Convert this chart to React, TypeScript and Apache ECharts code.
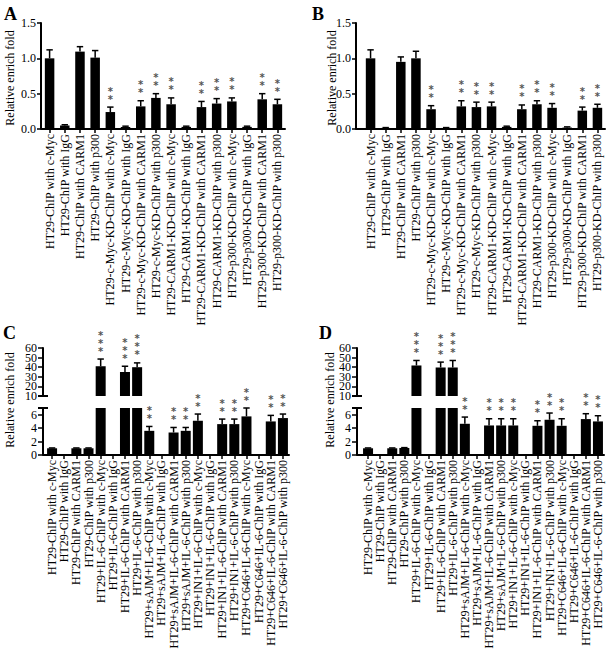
import React, { useEffect, useRef } from "react";
import * as echarts from "echarts";

const catsAB = [
  "HT29-ChIP with c-Myc",
  "HT29-ChIP with IgG",
  "HT29-ChIP with CARM1",
  "HT29-ChIP with p300",
  "HT29-c-Myc-KD-ChIP with c-Myc",
  "HT29-c-Myc-KD-ChIP with IgG",
  "HT29-c-Myc-KD-ChIP with CARM1",
  "HT29-c-Myc-KD-ChIP with p300",
  "HT29-CARM1-KD-ChIP with c-Myc",
  "HT29-CARM1-KD-ChIP with IgG",
  "HT29-CARM1-KD-ChIP with CARM1",
  "HT29-CARM1-KD-ChIP with p300",
  "HT29-p300-KD-ChIP with c-Myc",
  "HT29-p300-KD-ChIP with IgG",
  "HT29-p300-KD-ChIP with CARM1",
  "HT29-p300-KD-ChIP with p300",
];

const catsCD = [
  "HT29-ChIP with c-Myc",
  "HT29-ChIP with IgG",
  "HT29-ChIP with CARM1",
  "HT29-ChIP with p300",
  "HT29+IL-6-ChIP with c-Myc",
  "HT29+IL-6-ChIP with IgG",
  "HT29+IL-6-ChIP with CARM1",
  "HT29+IL-6-ChIP with p300",
  "HT29+sAJM+IL-6-ChIP with c-Myc",
  "HT29+sAJM+IL-6-ChIP with IgG",
  "HT29+sAJM+IL-6-ChIP with CARM1",
  "HT29+sAJM+IL-6-ChIP with p300",
  "HT29+IN1+IL-6-ChIP with c-Myc",
  "HT29+IN1+IL-6-ChIP with IgG",
  "HT29+IN1+IL-6-ChIP with CARM1",
  "HT29+IN1+IL-6-ChIP with p300",
  "HT29+C646+IL-6-ChIP with c-Myc",
  "HT29+C646+IL-6-ChIP with IgG",
  "HT29+C646+IL-6-ChIP with CARM1",
  "HT29+C646+IL-6-ChIP with p300",
];

const meanA = [1.0, 0.05, 1.095, 1.01, 0.24, 0.03, 0.32, 0.44, 0.35, 0.03, 0.31, 0.36, 0.39, 0.03, 0.42, 0.35];
const errA = [0.12, 0.01, 0.07, 0.1, 0.07, 0.01, 0.08, 0.06, 0.09, 0.01, 0.08, 0.07, 0.05, 0.01, 0.08, 0.07];
const starsA = [0, 0, 0, 0, 2, 0, 2, 2, 2, 0, 2, 2, 2, 0, 2, 2];

const meanB = [1.0, 0.015, 0.95, 1.0, 0.28, 0.015, 0.32, 0.31, 0.32, 0.03, 0.28, 0.35, 0.3, 0.02, 0.26, 0.3];
const errB = [0.12, 0.005, 0.07, 0.1, 0.05, 0.005, 0.08, 0.07, 0.06, 0.01, 0.06, 0.05, 0.06, 0.01, 0.05, 0.05];
const starsB = [0, 0, 0, 0, 2, 0, 2, 2, 2, 0, 2, 2, 2, 0, 2, 2];

const meanC = [1.0, 0, 1.0, 1.0, 41, 0, 35, 40, 3.6, 0, 3.35, 3.6, 5.1, 0, 4.6, 4.6, 5.75, 0, 5.0, 5.5];
const errC = [0.05, 0, 0.05, 0.05, 7.5, 0, 6, 4.5, 0.65, 0, 0.75, 0.5, 1.0, 0, 0.75, 0.75, 1.25, 0, 0.9, 0.6];
const starsC = [0, 0, 0, 0, 3, 0, 3, 3, 2, 0, 2, 2, 2, 0, 2, 2, 2, 0, 2, 2];

const meanD = [1.0, 0, 1.0, 1.05, 41.8, 0, 39.7, 39.7, 4.65, 0, 4.4, 4.4, 4.4, 0, 4.35, 5.25, 4.35, 0, 5.35, 5.0];
const errD = [0.05, 0, 0.05, 0.05, 5.2, 0, 5.6, 7.3, 1.0, 0, 1.0, 1.0, 1.0, 0, 0.75, 1.0, 1.05, 0, 0.8, 0.85];
const starsD = [0, 0, 0, 0, 3, 0, 3, 3, 2, 0, 2, 2, 2, 0, 2, 2, 2, 0, 2, 2];

// y-axis ranges / tick steps
const rangeAB = { min: 0, max: 1.5, interval: 0.5 };
const rangeUpper = { min: 10, max: 60, interval: 10 };
const rangeLower = { min: 0, max: 7, interval: 2 };

const yTitle = "Relative enrich fold";
const FONT = "'Liberation Serif', 'Times New Roman', serif";

type Seg = { top: number; height: number; min: number; max: number; interval: number; showX: boolean; split: boolean };
type Panel = {
  letter: string;
  cats: string[];
  mean: number[];
  err: number[];
  stars: number[];
  left: number;
  width: number;
  offset: number;
  barWidth: number;
  segs: Seg[];
  fmt: (v: number) => string;
  letterPos: [number, number];
  titlePos: [number, number];
};

const segAB: Seg[] = [{ top: 23, height: 106, ...rangeAB, showX: true, split: false }];
const segCD: Seg[] = [
  { top: 348, height: 48, ...rangeUpper, showX: false, split: true },
  { top: 408, height: 47, ...rangeLower, showX: true, split: false },
];

const panels: Panel[] = [
  { letter: "A", cats: catsAB, mean: meanA, err: errA, stars: starsA, left: 42, width: 243, offset: 1, barWidth: 9.5, segs: segAB, fmt: (v) => v.toFixed(1), letterPos: [4, 14], titlePos: [10, 78] },
  { letter: "B", cats: catsAB, mean: meanB, err: errB, stars: starsB, left: 363, width: 242, offset: 7, barWidth: 9.5, segs: segAB, fmt: (v) => v.toFixed(1), letterPos: [312, 14], titlePos: [332, 78] },
  { letter: "C", cats: catsCD, mean: meanC, err: errC, stars: starsC, left: 46, width: 243, offset: 3, barWidth: 10, segs: segCD, fmt: (v) => (v === rangeLower.max ? "" : String(v)), letterPos: [3, 333], titlePos: [10, 400] },
  { letter: "D", cats: catsCD, mean: meanD, err: errD, stars: starsD, left: 362, width: 242, offset: 5, barWidth: 10, segs: segCD, fmt: (v) => (v === rangeLower.max ? "" : String(v)), letterPos: [319, 333], titlePos: [330, 400] },
];

function buildOption() {
  const grid: any[] = [];
  const xAxis: any[] = [];
  const yAxis: any[] = [];
  const series: any[] = [];
  const graphic: any[] = [];
  let gi = 0;

  const labelBase = {
    show: true,
    showMinLabel: true,
    showMaxLabel: true,
    hideOverlap: false,
    fontSize: 12,
    fontFamily: FONT,
    color: "#000",
  };

  panels.forEach((p) => {
    const axisX = p.left - p.offset;
    const broken = p.segs.length > 1;
    p.segs.forEach((s, si) => {
      const lo = s.min;
      const hi = s.max;
      grid.push({ left: p.left, top: s.top, width: p.width, height: s.height, containLabel: false, outerBoundsMode: "none" });
      xAxis.push({
        type: "category",
        gridIndex: gi,
        data: p.cats,
        show: s.showX,
        axisLine: { show: s.showX, onZero: false, lineStyle: { color: "#000", width: 2 } },
        axisTick: { show: s.showX, alignWithLabel: true, length: 4, lineStyle: { color: "#000", width: 1.5 } },
        axisLabel: { show: s.showX, rotate: 90, interval: 0, fontSize: 12, fontFamily: FONT, color: "#000", margin: 5 },
        splitLine: { show: false },
      });
      const yi = yAxis.length;
      // main axis (line, ticks, labels; for the tight upper segment only every other label)
      yAxis.push({
        type: "value",
        gridIndex: gi,
        position: "left",
        min: s.min,
        max: s.max,
        interval: s.interval,
        offset: p.offset,
        axisLine: { show: true, lineStyle: { color: "#000", width: 2 } },
        axisTick: { show: true, length: broken ? 5 : 4, lineStyle: { color: "#000", width: 1.5 } },
        axisLabel: {
          ...labelBase,
          margin: broken ? 6 : 5,
          formatter: (v: number) => {
            if (s.split && Math.round((v - s.min) / s.interval) % 2 === 1) return "";
            return p.fmt(v);
          },
        },
        splitLine: { show: false },
      });
      if (s.split) {
        // companion axis carrying the remaining labels of the tight segment
        yAxis.push({
          type: "value",
          gridIndex: gi,
          position: "left",
          min: s.min,
          max: s.max,
          interval: s.interval,
          offset: p.offset,
          axisLine: { show: false },
          axisTick: { show: false },
          axisLabel: {
            ...labelBase,
            margin: 6,
            formatter: (v: number) => (Math.round((v - s.min) / s.interval) % 2 === 1 ? p.fmt(v) : ""),
          },
          splitLine: { show: false },
        });
      }

      series.push({
        type: "bar",
        xAxisIndex: gi,
        yAxisIndex: yi,
        data: p.mean,
        barWidth: p.barWidth,
        clip: true,
        itemStyle: { color: "#000" },
        silent: true,
      });

      series.push({
        type: "custom",
        xAxisIndex: gi,
        yAxisIndex: yi,
        data: p.mean.map((m, i) => [i, m, p.err[i]]),
        encode: { x: 0, y: 1 },
        clip: false,
        silent: true,
        z: 3,
        renderItem: (params: any, api: any) => {
          const x = api.value(0);
          const m = api.value(1);
          const e = api.value(2);
          if (!(e > 0) || m < lo || m > hi) return null;
          const p0 = api.coord([x, m]);
          const p1 = api.coord([x, Math.min(m + e, hi)]);
          const cap = 3.2;
          return {
            type: "group",
            children: [
              { type: "line", shape: { x1: p0[0], y1: p0[1], x2: p1[0], y2: p1[1] }, style: { stroke: "#000", lineWidth: 1.5 } },
              { type: "line", shape: { x1: p1[0] - cap, y1: p1[1], x2: p1[0] + cap, y2: p1[1] }, style: { stroke: "#000", lineWidth: 1.5 } },
            ],
          };
        },
      });

      series.push({
        type: "custom",
        xAxisIndex: gi,
        yAxisIndex: yi,
        data: p.mean.map((m, i) => [i, m + p.err[i], p.stars[i]]),
        encode: { x: 0, y: 1 },
        clip: false,
        silent: true,
        z: 4,
        renderItem: (params: any, api: any) => {
          const x = api.value(0);
          const top = api.value(1);
          const n = api.value(2);
          if (!n || top < lo || top > hi) return null;
          const pt = api.coord([x, top]);
          const children: any[] = [];
          for (let k = 0; k < n; k++) {
            children.push({
              type: "text",
              x: pt[0],
              y: pt[1] - 3 - 8 * k,
              style: {
                text: "*",
                fill: "#555",
                font: "bold 10px 'DejaVu Sans', sans-serif",
                align: "center",
                verticalAlign: "bottom",
                textAlign: "center",
                textVerticalAlign: "bottom",
              },
            });
          }
          return { type: "group", children };
        },
      });

      // broken-axis caps
      if (broken) {
        const capY = si === 0 ? s.top + s.height : s.top;
        graphic.push({
          type: "line",
          shape: { x1: axisX - 5, y1: capY, x2: axisX + 5, y2: capY },
          style: { stroke: "#000", lineWidth: 2 },
          silent: true,
        });
      }
      if (s.showX && p.offset > 0) {
        const by = s.top + s.height;
        graphic.push({
          type: "line",
          shape: { x1: axisX, y1: by, x2: p.left + 1, y2: by },
          style: { stroke: "#000", lineWidth: 2 },
          silent: true,
        });
      }
      gi++;
    });

    graphic.push({
      type: "text",
      x: p.letterPos[0],
      y: p.letterPos[1],
      style: {
        text: p.letter,
        fill: "#000",
        font: `bold 18px ${FONT}`,
        align: "left",
        verticalAlign: "middle",
        textAlign: "left",
        textVerticalAlign: "middle",
      },
      silent: true,
    });
    graphic.push({
      type: "text",
      x: p.titlePos[0],
      y: p.titlePos[1],
      rotation: Math.PI / 2,
      style: {
        text: yTitle,
        fill: "#000",
        font: `12px ${FONT}`,
        align: "center",
        verticalAlign: "middle",
        textAlign: "center",
        textVerticalAlign: "middle",
      },
      silent: true,
    });
  });

  return {
    animation: false,
    backgroundColor: "#fff",
    grid,
    xAxis,
    yAxis,
    series,
    graphic,
  };
}

export default function App() {
  const ref = useRef<HTMLDivElement>(null);
  useEffect(() => {
    if (!ref.current) return;
    const chart = echarts.init(ref.current, undefined, { renderer: "svg" });
    chart.setOption(buildOption() as any);
    return () => chart.dispose();
  }, []);
  return <div ref={ref} style={{ position: "absolute", left: 0, top: 0, width: 610, height: 651 }} />;
}
